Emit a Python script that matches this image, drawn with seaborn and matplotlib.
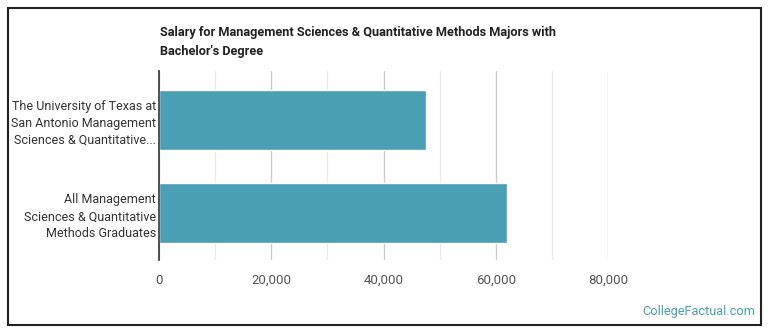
import matplotlib
matplotlib.use("Agg")
import matplotlib.pyplot as plt
import seaborn as sns
import pandas as pd
from matplotlib.ticker import MultipleLocator, FuncFormatter
from matplotlib.patches import Rectangle

categories = [
    "The University of Texas at\nSan Antonio Management\nSciences & Quantitative...",
    "All Management\nSciences & Quantitative\nMethods Graduates",
]
salaries = [47600, 62000]
title = "Salary for Management Sciences & Quantitative Methods Majors with\nBachelor's Degree"
watermark = "CollegeFactual.com"

sns.set_style("white")
plt.rcParams['font.family'] = ['Roboto', 'DejaVu Sans']

df = pd.DataFrame({"category": categories, "salary": salaries})

fig = plt.figure(figsize=(7.7, 3.35), dpi=100)
ax = fig.add_axes([159/770, (335-260)/335, (608-159)/770, (260-71)/335])

sns.barplot(data=df, x="salary", y="category", orient="h", color="#4a9fb5",
            saturation=1, width=0.64, ax=ax, zorder=3)

ax.set_xlim(0, 80000)
ax.set_ylim(1.5, -0.52)
ax.xaxis.set_major_locator(MultipleLocator(20000))
ax.xaxis.set_minor_locator(MultipleLocator(10000))
ax.xaxis.set_major_formatter(FuncFormatter(lambda v, p: f"{int(v):,}"))
ax.grid(axis="x", which="major", color="#cccccc", linewidth=1, zorder=0)
ax.grid(axis="x", which="minor", color="#ebebeb", linewidth=1, zorder=0)
ax.set_axisbelow(True)
for s in ["top", "right", "bottom"]:
    ax.spines[s].set_visible(False)
ax.spines["left"].set_color("#333333")
ax.spines["left"].set_linewidth(1.2)
ax.spines["left"].set_zorder(5)
ax.tick_params(axis="x", which="both", length=0, pad=10, labelsize=9.5, labelcolor="#555555")
ax.tick_params(axis="y", length=0, pad=2, labelsize=9.0, labelcolor="#333333")
for t in ax.get_yticklabels():
    t.set_linespacing(1.4)
ax.set_xlabel("")
ax.set_ylabel("")

fig.text(160/770, 1 - 26/335, title, ha="left", va="top", fontsize=9.2,
         fontweight="bold", color="#222222", linespacing=1.55)
fig.text(755/770, 1 - 312/335, watermark, ha="right", va="center", fontsize=9.2,
         color="#4a9fb5")

fig.patches.append(Rectangle((8/770, 10/335), 753/770, 317/335, transform=fig.transFigure,
                             fill=False, edgecolor="#222222", linewidth=1.5))

fig.savefig("out.png", dpi=100)
